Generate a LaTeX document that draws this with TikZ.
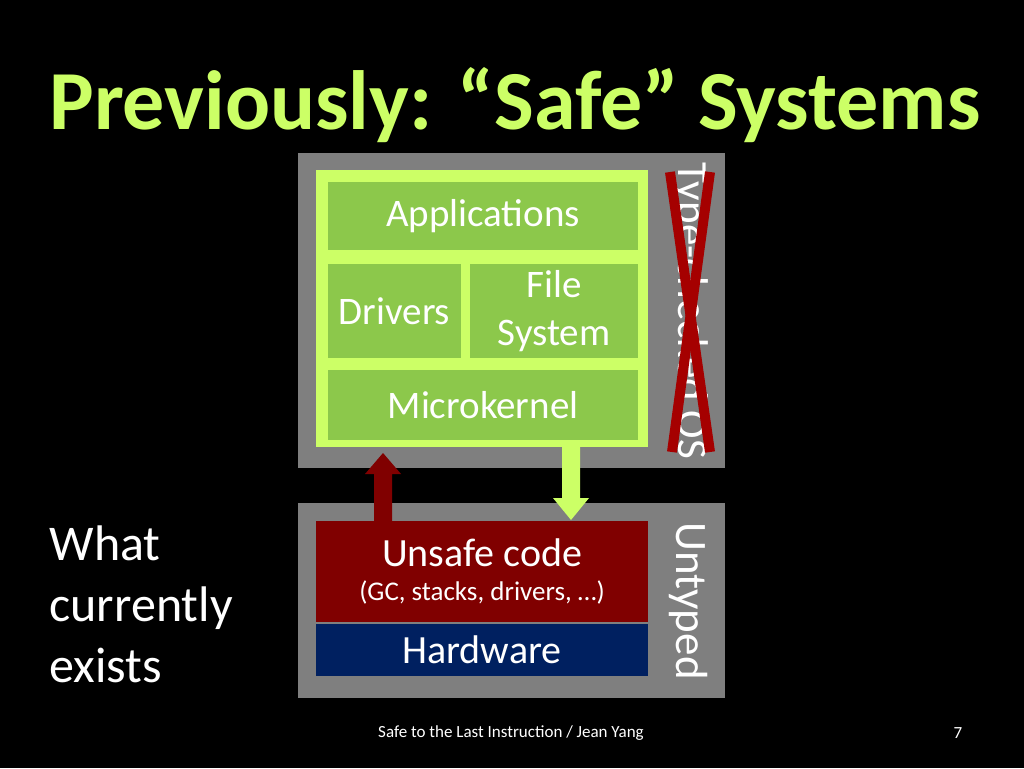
\documentclass[tikz,border=0pt]{standalone}
\usepackage{fontspec}
\setmainfont{Carlito}
\begin{document}
\begin{tikzpicture}[x=1pt,y=-1pt,
  gbox/.style={fill=boxgreen,draw=none,text=white,font=\fontsize{39}{44}\selectfont,align=center},
  lbl/.style={text=white}]
\definecolor{lime}{HTML}{CCFF66}
\definecolor{boxgreen}{HTML}{8CC84B}
\definecolor{graybg}{HTML}{7F7F7F}
\definecolor{dred}{HTML}{800000}
\definecolor{navy}{HTML}{002060}
\definecolor{xred}{HTML}{A50000}
\fill[black] (0,0) rectangle (1024,768);
\useasboundingbox (0,0) rectangle (1024,768);
\node (title) at (515,105) {\textcolor{lime}{\bfseries\fontsize{84}{90}\selectfont Previously: “Safe” Systems}};
% top gray
\fill[graybg] (298,153) rectangle (725,468);
\fill[lime] (316,170) rectangle (648,447);
\node[gbox,minimum width=310,minimum height=68] (app) at (483,216) {Applications};
\node[gbox,minimum width=133,minimum height=94] (drv) at (394.5,311) {Drivers};
\node[gbox,minimum width=168,minimum height=94,font=\fontsize{39}{48}\selectfont] (fs) at (554,311) {File\\System};
\node[gbox,minimum width=310,minimum height=70] (mk) at (483,405) {Microkernel};
\node[text=white,rotate=-90,font=\fontsize{43}{48}\selectfont] (tc) at (690,311) {Type-checked OS};
\draw[xred,line width=10] (670,172) -- (710,452);
\draw[xred,line width=10] (710,172) -- (672,452);
% bottom gray
\fill[graybg] (298,503) rectangle (725,698);
\node[fill=dred,minimum width=332,minimum height=101,inner sep=0] (us) at (482,571.5) {};
\node[text=white,font=\fontsize{40}{44}\selectfont] at (482,553) {Unsafe code};
\node[text=white,font=\fontsize{27}{30}\selectfont] at (482,592) {(GC, stacks, drivers, …)};
\node[fill=navy,minimum width=332,minimum height=52,inner sep=0,text=white,font=\fontsize{40}{44}\selectfont] (hw) at (482,650) {Hardware};
\node[text=white,rotate=-90,font=\fontsize{45}{50}\selectfont] (ut) at (688,601) {Untyped};
% arrows
\fill[dred] (374,521) -- (374,474) -- (365,474) -- (383,453) -- (401,474) -- (392,474) -- (392,521) -- cycle;
\fill[lime] (562,447) -- (562,498) -- (553,498) -- (571,520) -- (589,498) -- (580,498) -- (580,447) -- cycle;
\node[lbl,anchor=west,align=left,font=\fontsize{50}{61}\selectfont] (what) at (46,604) {What\\currently\\exists};
\node[text=white,font=\fontsize{17}{20}\selectfont] (foot) at (511,733) {Safe to the Last Instruction / Jean Yang};
\node[text=white,font=\fontsize{17}{20}\selectfont] (pg) at (958,733) {7};
\end{tikzpicture}
\end{document}
